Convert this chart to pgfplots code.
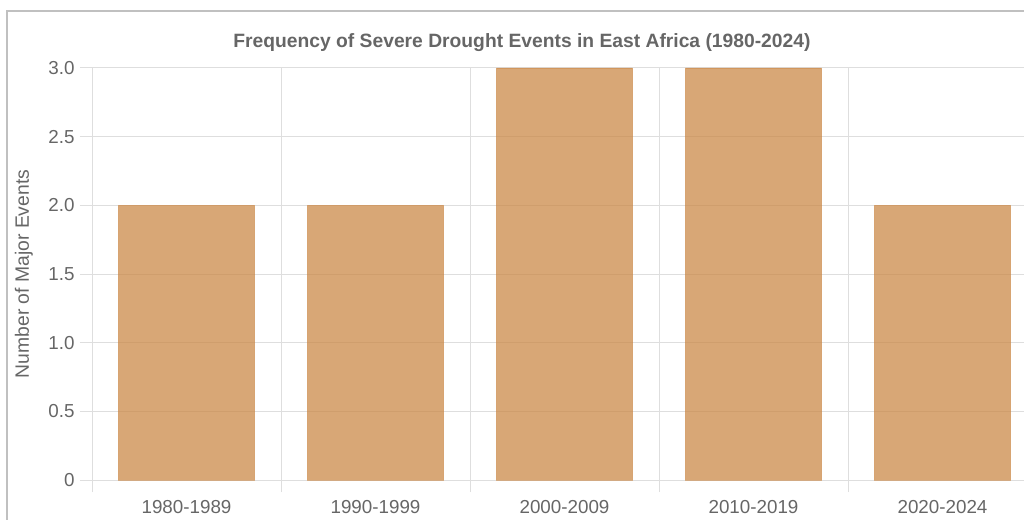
\documentclass[border=0pt]{standalone}
\usepackage{pgfplots}
\pgfplotsset{compat=1.18}
\usepackage{fontspec}
\setmainfont{Liberation Sans}
\definecolor{barfill}{RGB}{203,136,70}
\definecolor{gridgray}{RGB}{222,222,222}
\definecolor{txtgray}{RGB}{102,102,102}
\definecolor{framegray}{RGB}{192,192,192}
\begin{document}
\begin{tikzpicture}
\useasboundingbox (0,0) rectangle (768pt,-390pt);
\clip (0,0) rectangle (768pt,-390pt);
% outer frame
\draw[framegray, line width=1.1pt] (5.25pt,-430pt) -- (5.25pt,-8.25pt) -- (800pt,-8.25pt);
% title
\node[txtgray, font=\bfseries\fontsize{14.45}{17}\selectfont] at (391.5pt,-32pt)
  {Frequency of Severe Drought Events in East Africa (1980-2024)};
% y label
\node[txtgray, rotate=90, font=\fontsize{14.5}{17}\selectfont] at (18pt,-205.5pt)
  {Number of Major Events};
\begin{axis}[
  at={(69pt,-360pt)}, anchor=south west,
  scale only axis, width=708.75pt, height=309pt,
  xmin=-0.5, xmax=4.5, ymin=0, ymax=3,
  axis x line*=bottom, axis y line*=left,
  axis line style={gridgray, line width=0.75pt, -},
  xtick={0,1,2,3,4},
  xticklabels={1980-1989,1990-1999,2000-2009,2010-2019,2020-2024},
  minor xtick={-0.5,0.5,1.5,2.5,3.5,4.5},
  xminorgrids, ymajorgrids,
  grid style={gridgray, line width=0.75pt},
  minor grid style={gridgray, line width=0.75pt},
  ytick={0,0.5,1,1.5,2,2.5,3},
  yticklabels={0,0.5,1.0,1.5,2.0,2.5,3.0},
  tick align=outside,
  major tick length=9pt, minor tick length=9pt,
  tick style={gridgray, line width=0.75pt},
  major x tick style={draw=none},
  tick label style={txtgray, font=\fontsize{14.1}{17}\selectfont},
  xticklabel style={yshift=-2.5pt},
  yticklabel style={xshift=-0.5pt},
]
\addplot[ybar, bar width=0.72, fill=barfill, fill opacity=0.74,
  draw=barfill, draw opacity=0.55, line width=0.6pt]
  coordinates {(0,2) (1,2) (2,3) (3,3) (4,2)};
\end{axis}
\end{tikzpicture}
\end{document}
